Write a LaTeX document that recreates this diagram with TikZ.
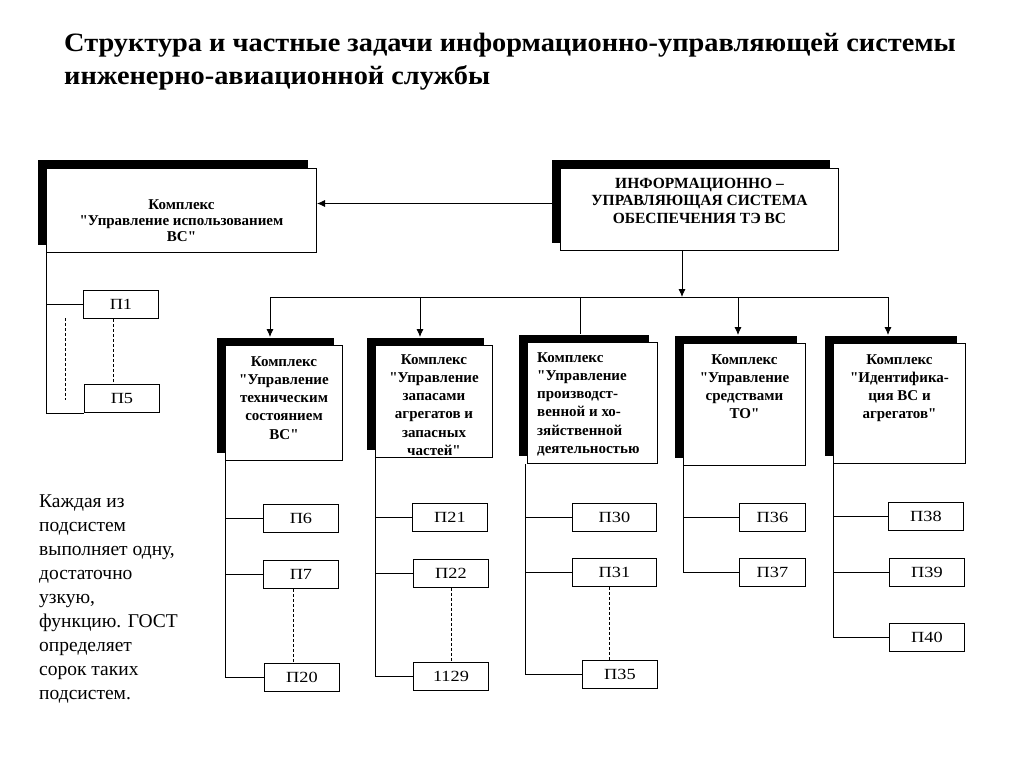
\documentclass[tikz,border=0pt]{standalone}
\usepackage{fontspec}
\setmainfont{Liberation Serif}[Ligatures=TeXOff]
\newfontfamily\titlefont{Liberation Serif}[Ligatures=TeXOff,FakeStretch=1.07]
\newfontfamily\wideserif{Liberation Serif}[Ligatures=TeXOff,FakeStretch=1.18]
\usetikzlibrary{shadows,arrows.meta,calc}
\begin{document}
\begin{tikzpicture}[x=1pt,y=-1pt,
  shd/.style={drop shadow={shadow xshift=-9pt,shadow yshift=8pt,fill=black,opacity=1}},
  cbox/.style={draw,line width=1pt,fill=white,anchor=north west,inner sep=0pt,shd},
  btxt/.style={font=\fontsize{15}{18.3}\selectfont\bfseries,align=center,inner sep=0pt,anchor=north},
  pbox/.style={draw,line width=0.9pt,fill=white,anchor=north west,minimum height=28pt,minimum width=75pt,inner sep=0pt,font=\wideserif\fontsize{15.5}{18}\selectfont},
  conn/.style={line width=0.8pt},
  arr/.style={line width=0.8pt,-{Latex[length=8pt,width=7pt]}},
  dsh/.style={line width=0.8pt,dash pattern=on 3pt off 2pt}
]
\useasboundingbox (0,0) rectangle (1024,767);
\fill[white] (0,0) rectangle (1024,767);

% title
\node[anchor=base west,inner sep=0pt,font=\titlefont\fontsize{26.5}{33}\selectfont\bfseries,align=left] (title) at (64,85)
  {Структура и частные задачи информационно-управляющей системы\\инженерно-авиационной службы};

% top boxes
\node[cbox,minimum width=270pt,minimum height=84pt] (tl) at (46,168) {};
\node[btxt,font=\fontsize{15}{16}\selectfont\bfseries] (tlt) at ([yshift=-31pt]tl.north) {Комплекс\\"Управление использованием\\ВС"};
\node[cbox,minimum width=278pt,minimum height=82pt] (tr) at (560,168) {};
\node[btxt,font=\fontsize{15.5}{17.5}\selectfont\bfseries] (trt) at ([yshift=-10pt]tr.north) {ИНФОРМАЦИОННО –\\УПРАВЛЯЮЩАЯ СИСТЕМА\\ОБЕСПЕЧЕНИЯ ТЭ ВС};

% complex boxes
\node[cbox,minimum width=117pt,minimum height=115pt] (b1) at (225,345) {};
\node[cbox,minimum width=117pt,minimum height=112pt] (b2) at (375,345) {};
\node[cbox,minimum width=130pt,minimum height=121pt] (b3) at (527,342) {};
\node[cbox,minimum width=122pt,minimum height=122pt] (b4) at (683,343) {};
\node[cbox,minimum width=132pt,minimum height=120pt] (b5) at (833,343) {};

\node[btxt] (b1t) at ([yshift=-11pt]b1.north) {Комплекс\\"Управление\\техническим\\состоянием\\ВС"};
\node[btxt] (b2t) at ([yshift=-9pt]b2.north) {Комплекс\\"Управление\\запасами\\агрегатов и\\запасных\\частей"};
\node[btxt,align=left,anchor=north west] (b3t) at ([xshift=10pt,yshift=-10pt]b3.north west) {Комплекс\\"Управление\\производст-\\венной и хо-\\зяйственной\\деятельностью};
\node[btxt] (b4t) at ([yshift=-11pt]b4.north) {Комплекс\\"Управление\\средствами\\ТО"};
\node[btxt] (b5t) at ([yshift=-11pt]b5.north) {Комплекс\\"Идентифика-\\ция ВС и\\агрегатов"};

% subsystem boxes
\node[pbox] (p1) at (83,290) {П1};
\node[pbox] (p5) at (84,384) {П5};
\node[pbox] (p6) at (263,504) {П6};
\node[pbox] (p7) at (263,560) {П7};
\node[pbox] (p20) at (264,663) {П20};
\node[pbox] (p21) at (412,503) {П21};
\node[pbox] (p22) at (413,559) {П22};
\node[pbox] (p29) at (413,662) {1129};
\node[pbox,minimum width=84pt] (p30) at (572,503) {П30};
\node[pbox,minimum width=84pt] (p31) at (572,558) {П31};
\node[pbox] (p35) at (582,660) {П35};
\node[pbox,minimum width=66pt] (p36) at (739,503) {П36};
\node[pbox,minimum width=66pt] (p37) at (739,558) {П37};
\node[pbox] (p38) at (888,502) {П38};
\node[pbox] (p39) at (889,558) {П39};
\node[pbox] (p40) at (889,623) {П40};

% note text
\node[anchor=north west,inner sep=0pt,align=left,font=\fontsize{19.5}{23.9}\selectfont] (note) at (39,495)
  {Каждая из\\подсистем\\выполняет одну,\\достаточно\\узкую,\\функцию. ГОСТ\\определяет\\сорок таких\\подсистем.};

% main connectors
\draw[arr] ([yshift=6pt]tr.west) -- ([yshift=6pt]tr.west -| tl.east);
\coordinate (j1) at (270,297);
\coordinate (j2) at (420,297);
\coordinate (j3) at (580,297);
\coordinate (j4) at (738,297);
\coordinate (j5) at (888,297);
\coordinate (jc) at (682,297);
\draw[arr] (tr.south -| jc) -- (jc);
\draw[conn] (j1) -- (j5);
\draw[arr] (j1) -- ($(j1 |- b1.north)+(0,-8)$);
\draw[arr] (j2) -- ($(j2 |- b2.north)+(0,-8)$);
\draw[conn] (j3) -- ($(j3 |- b3.north)+(0,-8)$);
\draw[arr] (j4) -- ($(j4 |- b4.north)+(0,-8)$);
\draw[arr] (j5) -- ($(j5 |- b5.north)+(0,-8)$);

% left column
\draw[conn] (tl.south west) -- (tl.south west |- p5.south) -- (p5.south west);
\draw[conn] (tl.south west |- p1.west) -- (p1.west);
\coordinate (dl1) at ($(p1.south)+(-8,0)$);
\draw[dsh] (dl1) -- (dl1 |- p5.north);
\coordinate (dl2) at (65,318);
\coordinate (dl3) at (65,400);
\draw[dsh] (dl2) -- (dl3);

% column 1
\draw[conn] (b1.south west) -- (b1.south west |- p20.west) -- (p20.west);
\draw[conn] (b1.south west |- p6.west) -- (p6.west);
\draw[conn] (b1.south west |- p7.west) -- (p7.west);
\coordinate (d7) at ($(p7.south)+(-8,0)$);
\draw[dsh] (d7) -- (d7 |- p20.north);
% column 2
\draw[conn] (b2.south west) -- (b2.south west |- p29.west) -- (p29.west);
\draw[conn] (b2.south west |- p21.west) -- (p21.west);
\draw[conn] (b2.south west |- p22.west) -- (p22.west);
\draw[dsh] (p22.south) -- (p29.north);
% column 3
\coordinate (c3) at ($(b3.south west)+(-2,0)$);
\draw[conn] (c3) -- (c3 |- p35.west) -- (p35.west);
\draw[conn] (c3 |- p30.west) -- (p30.west);
\draw[conn] (c3 |- p31.west) -- (p31.west);
\coordinate (d31) at ($(p31.south)+(-5,0)$);
\draw[dsh] (d31) -- (d31 |- p35.north);
% column 4
\draw[conn] (b4.south west) -- (b4.south west |- p37.west) -- (p37.west);
\draw[conn] (b4.south west |- p36.west) -- (p36.west);
% column 5
\draw[conn] (b5.south west) -- (b5.south west |- p40.west) -- (p40.west);
\draw[conn] (b5.south west |- p38.west) -- (p38.west);
\draw[conn] (b5.south west |- p39.west) -- (p39.west);
\end{tikzpicture}
\end{document}
